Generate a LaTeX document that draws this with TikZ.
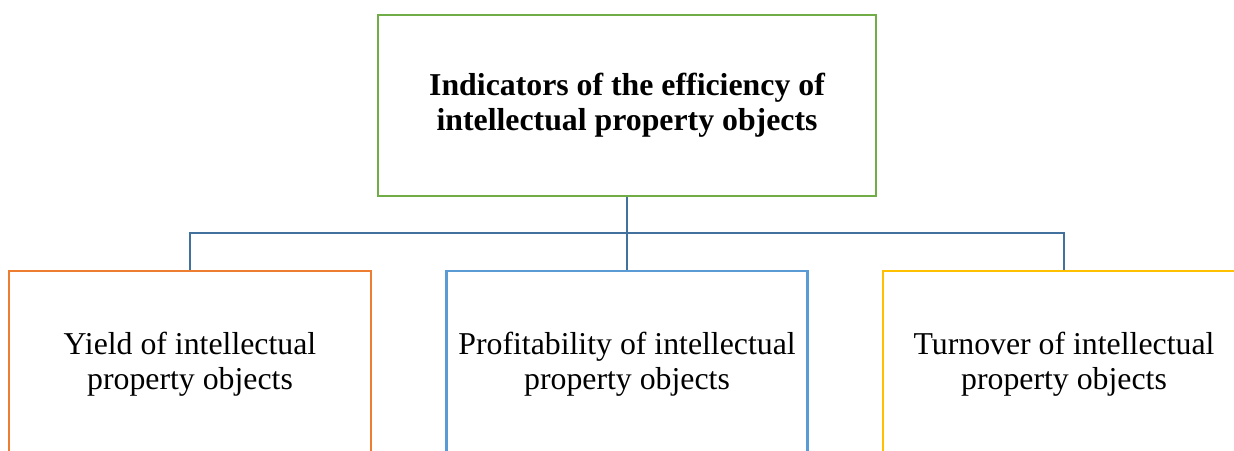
\documentclass[tikz,border=0pt]{standalone}
\usepackage{fontspec}
\setmainfont{Liberation Serif}
\definecolor{topgreen}{RGB}{112,173,71}
\definecolor{orangeb}{RGB}{237,125,49}
\definecolor{blueb}{RGB}{91,155,213}
\definecolor{yellowb}{RGB}{255,192,0}
\definecolor{linkblue}{RGB}{65,113,156}
\begin{document}
\begin{tikzpicture}[x=1pt,y=-1pt,
  box/.style={draw, line width=2.8pt, fill=white, align=center, inner sep=0pt,
    font=\fontsize{31.8}{35}\selectfont},
  leaf/.style={box, minimum width=362pt, minimum height=186pt},
  link/.style={draw=linkblue, line width=2.8pt}]
\useasboundingbox (0,0) rectangle (1234,450);
\clip (0,0) rectangle (1234,450);

% root box
\node[box, draw=topgreen, minimum width=498pt, minimum height=181pt,
  font=\fontsize{31.8}{35}\selectfont\bfseries] (root) at (627,105.5)
  {Indicators of the efficiency of\\intellectual property objects};

% three indicator boxes (their lower edges run past the page)
\node[leaf, draw=orangeb] (yield) at (190,364)
  {Yield of intellectual\\property objects};
\node[leaf, draw=blueb, minimum width=361pt] (profit) at (627,364)
  {Profitability of intellectual\\property objects};
\node[leaf, draw=yellowb] (turn) at (1064,364)
  {Turnover of intellectual\\property objects};

% tree connectors
\coordinate (bus) at (627,233);
\draw[link] (root.south) -- (bus);
\draw[link] (bus) -| (yield.north);
\draw[link] (bus) -| (turn.north);
\draw[link] (bus) -- (profit.north);
\end{tikzpicture}
\end{document}
